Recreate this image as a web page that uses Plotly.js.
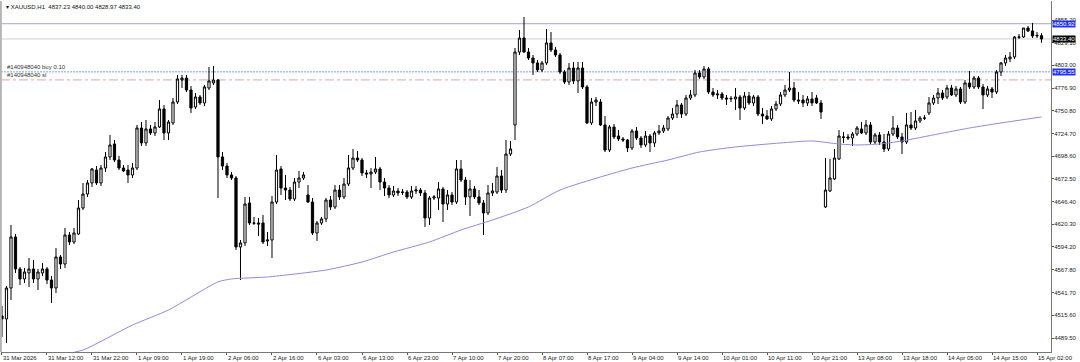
<!DOCTYPE html>
<html>
<head>
<meta charset="utf-8">
<script src="https://cdn.plot.ly/plotly-3.0.1.min.js"></script>
<style>html,body{margin:0;padding:0;background:#fff}#chart{width:1080px;height:362px}</style>
</head>
<body>
<div id="chart"></div>
<script>
// XAUUSD H1 bars (index 0 = first visible bar, 31 Mar)
const openP = [4514.8,4511.4,4547.0,4605.7,4568.9,4557.4,4564.3,4568.9,4557.4,4564.3,
4568.9,4556.2,4547.0,4582.7,4574.6,4608.0,4599.9,4609.1,4639.0,4655.1,
4667.8,4682.7,4667.8,4685.0,4697.7,4712.6,4694.2,4685.0,4682.7,4677.0,
4685.0,4731.0,4713.8,4729.9,4725.3,4732.2,4752.9,4725.3,4736.8,4760.9,
4786.2,4788.5,4774.7,4755.2,4766.7,4759.8,4777.0,4782.8,4786.2,4697.7,
4687.3,4677.0,4673.5,4594.2,4598.8,4644.8,4621.8,4621.8,4621.8,4601.1,
4602.2,4645.9,4683.9,4662.0,4659.7,4649.4,4668.9,4673.5,4654.0,4645.9,
4610.3,4621.8,4626.4,4648.2,4640.2,4659.7,4651.7,4666.6,4685.0,4696.5,
4694.2,4679.3,4678.1,4680.4,4683.9,4668.9,4662.0,4654.0,4658.6,4657.4,
4657.4,4651.7,4658.6,4659.7,4656.3,4627.5,4650.5,4650.5,4660.9,4643.6,
4654.0,4645.9,4683.9,4671.2,4651.7,4660.9,4651.7,4644.8,4633.3,4656.3,
4657.4,4675.8,4659.7,4701.1,4734.5,4818.4,4834.5,4818.4,4811.5,4805.8,
4797.7,4805.8,4828.8,4820.7,4815.0,4795.4,4783.9,4800.0,4785.1,4800.0,
4778.2,4736.8,4760.9,4760.9,4734.5,4705.7,4732.2,4721.8,4718.4,4717.2,
4708.0,4727.6,4719.5,4711.5,4721.8,4713.8,4725.3,4727.6,4729.9,4742.5,
4747.1,4757.5,4747.1,4765.5,4769.0,4794.3,4789.7,4798.9,4772.4,4769.0,
4770.1,4765.5,4764.4,4764.4,4766.7,4754.0,4767.8,4759.8,4766.7,4747.1,
4744.8,4741.4,4752.9,4758.6,4769.0,4774.7,4777.0,4763.2,4763.2,4759.8,
4764.4,4765.5,4759.8,4640.2,4658.6,4672.4,4695.4,4720.7,4720.7,4719.5,
4724.1,4729.9,4725.3,4734.5,4714.9,4723.0,4714.9,4706.9,4724.1,4731.0,
4720.7,4714.9,4734.5,4731.0,4739.1,4742.5,4748.3,4759.8,4765.5,4771.3,
4766.7,4777.0,4769.0,4775.9,4760.9,4782.8,4778.2,4788.5,4778.2,4769.0,
4775.9,4772.4,4795.4,4805.8,4810.4,4812.7,4835.7,4835.7,4846.0,4842.6,
4836.8,4837.23];
const highP = [4526.3,4549.3,4619.5,4609.1,4571.2,4570.0,4581.5,4579.2,4568.9,4575.8,
4571.2,4560.8,4593.0,4585.0,4616.0,4611.4,4616.0,4648.2,4667.8,4671.2,
4685.0,4687.3,4688.5,4703.4,4723.0,4717.2,4698.8,4688.5,4688.5,4690.8,
4734.5,4737.9,4740.2,4734.5,4737.9,4763.2,4757.5,4740.2,4765.5,4792.0,
4792.0,4792.0,4779.3,4771.3,4769.0,4780.5,4801.2,4802.3,4787.4,4703.4,
4690.8,4680.4,4675.8,4602.2,4651.7,4651.7,4628.7,4627.5,4630.9,4611.4,
4652.8,4700.0,4687.3,4677.0,4663.2,4673.5,4681.6,4680.4,4665.5,4650.5,
4624.1,4628.7,4650.5,4652.8,4665.5,4665.5,4673.5,4700.0,4706.9,4704.6,
4696.5,4682.7,4685.0,4697.7,4686.2,4673.5,4665.5,4664.3,4662.0,4660.9,
4659.7,4664.3,4664.3,4662.0,4659.7,4652.8,4654.0,4668.9,4663.2,4659.7,
4657.4,4694.2,4694.2,4674.7,4671.2,4664.3,4659.7,4648.2,4665.5,4667.8,
4686.2,4682.7,4717.2,4716.1,4823.0,4843.7,4858.7,4823.0,4815.0,4809.2,
4808.1,4844.9,4841.4,4824.2,4817.3,4797.7,4805.8,4806.9,4806.9,4806.9,
4780.5,4765.5,4766.7,4764.4,4744.8,4734.5,4735.6,4728.7,4720.7,4718.4,
4729.9,4732.2,4721.8,4727.6,4724.1,4727.6,4734.5,4734.5,4744.8,4754.0,
4763.2,4759.8,4769.0,4774.7,4797.7,4797.7,4802.3,4801.2,4777.0,4774.7,
4772.4,4769.0,4767.8,4777.0,4769.0,4772.4,4772.4,4769.0,4769.0,4754.0,
4751.7,4756.3,4762.1,4772.4,4780.5,4795.4,4783.9,4772.4,4768.9,4767.8,
4772.4,4769.0,4763.2,4696.5,4695.4,4706.9,4728.7,4726.4,4724.1,4726.4,
4733.3,4737.9,4740.2,4737.9,4725.3,4726.4,4724.1,4727.6,4744.8,4734.5,
4725.3,4748.3,4749.4,4751.7,4744.8,4745.9,4766.7,4768.9,4777.0,4774.7,
4780.5,4780.5,4779.3,4778.2,4786.2,4796.6,4790.8,4790.8,4781.6,4779.3,
4778.2,4797.7,4806.9,4815.0,4818.4,4836.8,4839.1,4846.0,4848.3,4851.8,
4841.4,4840.00];
const lowP = [4490.7,4483.8,4533.2,4564.3,4550.5,4552.8,4548.2,4552.8,4544.7,4560.8,
4551.6,4529.8,4541.3,4568.9,4570.0,4596.5,4597.6,4608.0,4636.7,4651.7,
4663.2,4665.5,4664.3,4680.4,4694.2,4691.9,4682.7,4680.4,4667.8,4673.5,
4682.7,4710.3,4710.3,4723.0,4721.8,4731.0,4717.2,4717.2,4734.5,4758.6,
4777.0,4772.4,4748.3,4752.9,4757.5,4756.3,4774.7,4780.5,4650.5,4682.7,
4673.5,4671.2,4590.7,4556.2,4595.3,4619.5,4619.5,4606.8,4597.6,4595.3,
4581.5,4643.6,4654.0,4648.2,4647.1,4647.1,4662.0,4671.2,4644.8,4608.0,
4601.1,4619.5,4622.9,4636.7,4637.9,4648.2,4649.4,4664.3,4682.7,4691.9,
4675.8,4673.5,4662.0,4678.1,4659.7,4652.8,4650.5,4651.7,4652.8,4654.0,
4649.4,4649.4,4655.1,4652.8,4617.2,4619.5,4648.2,4636.7,4622.9,4636.7,
4642.5,4643.6,4668.9,4642.5,4629.8,4649.4,4642.5,4608.0,4631.0,4652.8,
4655.1,4656.3,4656.3,4698.8,4717.2,4815.0,4817.3,4809.2,4792.0,4795.4,
4795.4,4803.5,4818.4,4812.7,4793.1,4781.6,4780.5,4781.6,4771.3,4775.9,
4735.6,4734.5,4756.3,4733.3,4703.4,4703.4,4718.4,4716.1,4714.9,4703.4,
4705.7,4717.2,4708.0,4709.2,4703.4,4709.2,4723.0,4725.3,4727.6,4740.2,
4742.5,4742.5,4744.8,4763.2,4766.7,4787.4,4787.4,4770.1,4766.7,4764.4,
4763.2,4757.5,4760.9,4751.7,4740.2,4751.7,4757.5,4756.3,4744.8,4735.6,
4740.2,4739.1,4750.6,4756.3,4766.7,4772.4,4760.9,4758.6,4755.2,4756.3,
4756.3,4758.6,4741.4,4639.0,4657.4,4671.2,4694.2,4713.8,4717.2,4710.3,
4721.8,4724.1,4722.9,4712.6,4712.6,4711.5,4703.4,4704.6,4721.8,4718.4,
4701.1,4712.6,4728.7,4728.7,4736.8,4740.2,4745.9,4757.5,4758.6,4763.2,
4764.4,4767.8,4766.7,4758.6,4758.6,4775.9,4775.9,4775.9,4752.9,4766.7,
4765.5,4770.1,4790.8,4802.3,4806.9,4810.4,4833.4,4834.5,4841.4,4834.5,
4834.5,4828.97];
const closeP = [4511.4,4547.0,4605.7,4568.9,4557.4,4565.4,4568.9,4557.4,4565.4,4568.9,
4556.2,4547.0,4582.7,4574.6,4608.0,4599.9,4610.3,4639.0,4655.1,4667.8,
4683.9,4667.8,4685.0,4697.7,4711.5,4694.2,4685.0,4681.6,4677.0,4685.0,
4731.0,4713.8,4729.9,4725.3,4732.2,4752.9,4725.3,4737.9,4760.9,4787.4,
4788.5,4774.7,4754.0,4766.7,4759.8,4778.2,4785.1,4786.2,4697.7,4687.3,
4677.0,4673.5,4594.2,4598.8,4643.6,4621.8,4621.5,4620.6,4599.9,4602.2,
4645.9,4682.7,4662.0,4659.7,4649.4,4668.9,4673.5,4677.0,4645.9,4610.3,
4621.8,4626.4,4648.2,4640.2,4659.7,4651.7,4666.6,4685.0,4696.5,4694.2,
4679.3,4678.1,4680.4,4683.9,4668.9,4662.0,4654.0,4658.6,4656.3,4657.0,
4651.7,4658.6,4659.7,4656.3,4627.5,4650.5,4651.7,4660.9,4643.6,4654.0,
4645.9,4683.9,4671.2,4651.7,4660.9,4651.7,4644.8,4633.3,4656.3,4658.6,
4675.8,4659.7,4701.1,4706.9,4818.4,4834.5,4818.4,4811.5,4805.8,4797.7,
4805.8,4828.8,4820.7,4815.0,4795.4,4783.9,4800.0,4785.1,4800.0,4778.2,
4736.8,4760.9,4763.2,4734.5,4705.7,4732.2,4720.7,4718.4,4717.2,4708.0,
4727.6,4719.5,4711.5,4721.8,4713.8,4725.3,4727.6,4731.0,4742.5,4747.1,
4757.5,4747.1,4765.5,4769.0,4794.3,4789.7,4798.9,4772.4,4769.0,4770.1,
4765.5,4764.4,4765.0,4766.7,4754.0,4767.8,4759.8,4766.7,4747.1,4744.8,
4741.4,4752.9,4758.6,4769.0,4774.7,4777.0,4763.2,4762.1,4759.8,4764.4,
4759.8,4759.8,4749.4,4659.7,4673.5,4696.5,4721.8,4720.4,4719.5,4724.1,
4731.0,4725.3,4734.5,4714.9,4723.0,4714.9,4706.9,4724.1,4731.0,4720.7,
4714.9,4734.5,4731.0,4739.1,4742.5,4742.3,4759.8,4765.5,4771.3,4765.5,
4777.0,4769.0,4775.9,4760.9,4782.8,4778.2,4788.5,4778.2,4769.0,4775.9,
4772.4,4795.4,4805.8,4811.5,4812.7,4835.7,4835.4,4846.0,4842.6,4836.8,
4837.5,4833.40];

// moving average (read at selected bars)
const maBar = [12,18,29,37,48,51,59,72,80,87,95,102,109,117,124,133,140,148,155,163,173,180,186,190,195,200,208,215,222,231];
const maVal = [4469.0,4475.7,4504.4,4521.7,4554.0,4557.4,4559.7,4567.7,4576.9,4588.4,4599.9,4613.7,4625.2,4640.2,4659.7,4674.7,4685.0,4694.2,4703.4,4709.2,4713.8,4716.1,4712.6,4711.5,4712.6,4716.1,4724.1,4731.0,4736.8,4743.7];

// time axis labels (every 10th bar)
const timeLabels = ["31 Mar 2026","31 Mar 12:00","31 Mar 22:00","1 Apr 09:00","1 Apr 19:00","2 Apr 06:00","2 Apr 16:00","6 Apr 03:00","6 Apr 13:00","6 Apr 23:00","7 Apr 10:00","7 Apr 20:00","8 Apr 07:00","8 Apr 17:00","9 Apr 04:00","9 Apr 14:00","10 Apr 01:00","10 Apr 11:00","10 Apr 21:00","13 Apr 08:00","13 Apr 18:00","14 Apr 05:00","14 Apr 15:00","15 Apr 02:00"];
const labelStep = 10;

// price axis labels
const priceTicks = [4855.20,4829.10,4803.00,4776.90,4750.80,4724.70,4698.60,4672.50,4646.40,4620.30,4594.20,4567.80,4541.70,4515.60,4489.50];

// horizontal levels
const levelTop = 4850.92;
const levelBid = 4833.40;
const levelBuy = 4795.55;
const levelSL = 4786.30;
const orderId = "#140948040";
const symbolTitle = "XAUUSD,H1";
const lastBar = {o:"4837.23", h:"4840.00", l:"4828.97", c:"4833.40"};

const barIdx = openP.map((_, i) => i);
const tickIdx = timeLabels.map((_, i) => i * labelStep);

const FONT = 'Liberation Sans, Arial, sans-serif';
const FS = 6;

const candles = {
  type: 'candlestick',
  x: barIdx, open: openP, high: highP, low: lowP, close: closeP,
  increasing: {line: {color: '#000', width: 1}, fillcolor: '#ffffff'},
  decreasing: {line: {color: '#000', width: 1}, fillcolor: '#000000'},
  whiskerwidth: 0,
  hoverinfo: 'skip'
};
const ma = {
  type: 'scatter', mode: 'lines', x: maBar, y: maVal,
  line: {color: '#8c8cdc', width: 1, shape: 'spline', smoothing: 0.6},
  hoverinfo: 'skip'
};

function hline(y, color, dash) {
  return {type: 'line', xref: 'paper', x0: 0, x1: 1, yref: 'y', y0: y, y1: y,
          line: {color: color, width: 1, dash: dash || 'solid'}, layer: 'below'};
}
function axisBox(y, txt, bg) {
  return {xref: 'paper', x: 1, xanchor: 'left', xshift: 1, yref: 'y', y: y, yanchor: 'middle',
          text: txt, showarrow: false, bgcolor: bg, borderpad: 0,
          font: {family: FONT, size: FS, color: '#ffffff'}};
}

const timeAnnots = timeLabels.map((t, i) => ({
  xref: 'x', x: tickIdx[i], xanchor: 'left', xshift: -1,
  yref: 'paper', y: 0, yanchor: 'top', yshift: -1,
  text: t, showarrow: false, font: {family: FONT, size: FS, color: '#222'}
}));

const layout = {
  width: 1080, height: 362,
  margin: {l: 1, r: 29, t: 1, b: 10, autoexpand: false},
  paper_bgcolor: '#ffffff', plot_bgcolor: '#ffffff',
  showlegend: false,
  xaxis: {
    range: [-0.22, 233.11], fixedrange: true,
    rangeslider: {visible: false},
    tickvals: tickIdx, showticklabels: false,
    ticks: 'outside', ticklen: 2, tickcolor: '#555',
    showgrid: false, zeroline: false,
    showline: true, linecolor: '#777', linewidth: 1
  },
  yaxis: {
    side: 'right', range: [4473.4, 4877.05], fixedrange: true,
    tickvals: priceTicks, ticktext: priceTicks.map(v => v.toFixed(2)),
    ticks: 'outside', ticklen: 2, tickcolor: '#555',
    ticklabelstandoff: -1,
    showgrid: false, zeroline: false,
    showline: true, linecolor: '#777', linewidth: 1,
    tickfont: {family: FONT, size: FS, color: '#222'}
  },
  shapes: [
    hline(levelTop, '#a3a3d8'),
    hline(levelBid, '#cfcfcf'),
    hline(levelBuy, '#7ea3d6', '2px,1px'),
    hline(levelSL, '#e6a3a3', 'dashdot'),
    {type: 'rect', xref: 'paper', yref: 'paper', x0: -0.001, x1: 0.0008, y0: 0, y1: 1,
     fillcolor: '#b4b4b4', line: {width: 0}}
  ],
  annotations: [
    {xref: 'paper', yref: 'paper', x: 0, y: 1, xanchor: 'left', yanchor: 'top', xshift: 3, yshift: -1,
     text: '\u25BE ' + symbolTitle + '  ' + [lastBar.o, lastBar.h, lastBar.l, lastBar.c].join(' '),
     showarrow: false, font: {family: FONT, size: FS, color: '#111'}},
    {xref: 'paper', x: 0, xanchor: 'left', xshift: 4, yref: 'y', y: levelBuy, yanchor: 'bottom', yshift: 0,
     text: orderId + ' buy 0.10', showarrow: false, font: {family: FONT, size: FS, color: '#333'}},
    {xref: 'paper', x: 0, xanchor: 'left', xshift: 4, yref: 'y', y: levelSL, yanchor: 'bottom', yshift: 0,
     text: orderId + ' sl', showarrow: false, font: {family: FONT, size: FS, color: '#333'}},
    axisBox(levelTop, levelTop.toFixed(2), '#2233ee'),
    axisBox(levelBid, levelBid.toFixed(2), '#000000'),
    axisBox(levelBuy, levelBuy.toFixed(2), '#2233ee')
  ].concat(timeAnnots)
};

Plotly.newPlot('chart', [ma, candles], layout, {displayModeBar: false, staticPlot: true});
</script>
</body>
</html>
